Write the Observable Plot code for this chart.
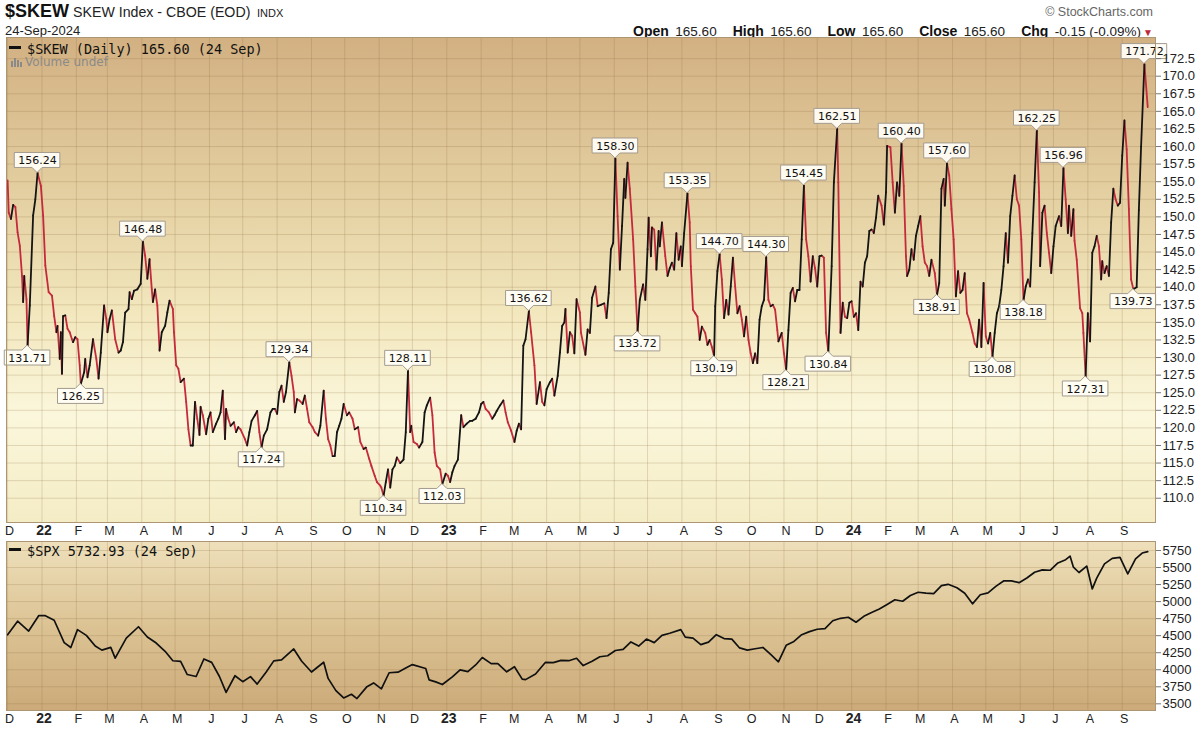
<!DOCTYPE html>
<html><head><meta charset="utf-8">
<script src="https://cdn.jsdelivr.net/npm/d3@7"></script>
<script src="https://cdn.jsdelivr.net/npm/@observablehq/plot@0.6"></script>
<style>
body{margin:0;background:#fff;width:1200px;height:731px;overflow:hidden;position:relative;font-family:"Liberation Sans",Arial,sans-serif;color:#111;}
.abs{position:absolute;white-space:nowrap;line-height:1;}
#upper{position:absolute;left:0;top:37px;}
#lower{position:absolute;left:0;top:541px;}
.leg{font-family:"DejaVu Sans Mono",monospace;font-size:13.5px;color:#111;z-index:5;}
.dash{display:inline-block;width:12px;height:2.5px;background:#111;vertical-align:middle;margin-right:6px;position:relative;top:-2px;}
#hdr-right b{font-size:14px;}
#hdr-right span{font-size:13.5px;margin-left:2px;margin-right:16px;color:#222;}
</style></head><body>

<div class="abs" style="left:5px;top:2px;font-size:18px;font-weight:bold;">$SKEW</div>
<div class="abs" style="left:73px;top:5px;font-size:14.2px;color:#222;">SKEW Index - CBOE (EOD)</div>
<div class="abs" style="left:257px;top:7.5px;font-size:11px;color:#222;">INDX</div>
<div class="abs" style="left:5px;top:24px;font-size:13px;color:#222;">24-Sep-2024</div>
<div class="abs" style="right:47px;top:6px;font-size:12.5px;color:#666;">© StockCharts.com</div>
<div class="abs" id="hdr-right" style="right:47px;top:22.5px;color:#111;"></div>

<div class="abs leg" style="left:9px;top:42.5px;"><span class="dash"></span>$SKEW (Daily) 165.60 (24 Sep)</div>
<div class="abs" style="left:11px;top:56px;font-size:12px;color:#8a8a8a;font-family:'DejaVu Sans',sans-serif;z-index:5;"><svg width="12" height="10" style="vertical-align:-1px;margin-right:2px"><rect x="0" y="4" width="2" height="6" fill="#8a8a8a"/><rect x="3" y="1" width="2" height="9" fill="#8a8a8a"/><rect x="6" y="3" width="2" height="7" fill="#8a8a8a"/><rect x="9" y="5" width="2" height="5" fill="#8a8a8a"/></svg>Volume undef</div>
<div class="abs leg" style="left:9px;top:544.5px;"><span class="dash"></span>$SPX 5732.93 (24 Sep)</div>

<div id="upper"></div>
<div id="lower"></div>

<script>
// ---------- data ----------
const skew2021 = [["2021-12-01",155.2],["2021-12-02",150.6],["2021-12-04",149.7],["2021-12-06",151.7],["2021-12-08",151.4],["2021-12-10",147.8],["2021-12-12",145.9],["2021-12-14",141.6],["2021-12-15",137.9],["2021-12-16",141.6],["2021-12-18",138.3],["2021-12-19",131.71],["2021-12-21",137.4],["2021-12-24",150.2],["2021-12-26",152.5],["2021-12-28",156.24],["2021-12-31",154.4]];
const skew2022 = [["2022-01-02",150.2],["2022-01-04",143.1],["2022-01-07",139.3],["2022-01-10",138.8],["2022-01-12",135.9],["2022-01-14",133.6],["2022-01-15",134.5],["2022-01-17",129.8],["2022-01-18",133.6],["2022-01-19",127.7],["2022-01-20",135.9],["2022-01-22",136.0],["2022-01-24",134.1],["2022-01-26",133.6],["2022-01-28",132.6],["2022-01-29",132.2],["2022-01-31",132.9],["2022-02-02",132.6],["2022-02-04",128.9],["2022-02-05",126.25],["2022-02-08",127.9],["2022-02-09",129.8],["2022-02-11",127.2],["2022-02-13",128.9],["2022-02-16",132.6],["2022-02-19",129.8],["2022-02-21",127.0],["2022-02-23",130.7],["2022-02-26",137.4],["2022-02-28",135.5],["2022-03-01",133.6],["2022-03-03",135.5],["2022-03-05",136.7],["2022-03-08",132.6],["2022-03-11",130.7],["2022-03-13",131.0],["2022-03-15",132.2],["2022-03-17",136.4],["2022-03-20",136.9],["2022-03-21",139.3],["2022-03-23",138.3],["2022-03-25",139.5],["2022-03-28",139.7],["2022-03-31",140.5],["2022-04-02",146.48],["2022-04-04",144.5],["2022-04-06",141.2],["2022-04-08",144.0],["2022-04-10",139.7],["2022-04-11",137.9],["2022-04-13",139.7],["2022-04-15",137.4],["2022-04-17",131.0],["2022-04-19",133.6],["2022-04-22",134.5],["2022-04-24",136.4],["2022-04-26",138.1],["2022-04-29",136.9],["2022-04-30",133.6],["2022-05-02",128.9],["2022-05-04",128.4],["2022-05-06",126.5],["2022-05-09",127.0],["2022-05-11",123.7],["2022-05-13",119.8],["2022-05-15",117.5],["2022-05-17",117.5],["2022-05-19",123.7],["2022-05-21",121.3],["2022-05-23",119.0],["2022-05-24",123.0],["2022-05-26",121.8],["2022-05-29",119.1],["2022-05-31",121.3],["2022-06-02",122.2],["2022-06-04",119.4],["2022-06-07",120.6],["2022-06-09",121.3],["2022-06-11",122.2],["2022-06-13",125.3],["2022-06-15",118.4],["2022-06-16",122.7],["2022-06-18",121.3],["2022-06-20",120.3],["2022-06-23",120.8],["2022-06-25",119.4],["2022-06-27",120.1],["2022-06-29",119.8],["2022-07-03",118.4],["2022-07-05",117.5],["2022-07-07",119.4],["2022-07-09",121.0],["2022-07-12",121.8],["2022-07-14",122.4],["2022-07-16",119.4],["2022-07-18",117.24],["2022-07-20",118.9],["2022-07-23",119.8],["2022-07-26",122.2],["2022-07-28",122.7],["2022-07-30",122.7],["2022-08-01",122.0],["2022-08-03",125.1],["2022-08-05",126.0],["2022-08-07",123.7],["2022-08-09",125.1],["2022-08-12",129.34],["2022-08-14",127.4],["2022-08-16",125.1],["2022-08-17",122.2],["2022-08-19",124.1],["2022-08-21",123.9],["2022-08-24",123.4],["2022-08-26",124.6],["2022-08-28",122.7],["2022-08-30",120.8],["2022-09-02",120.1],["2022-09-04",119.4],["2022-09-07",118.9],["2022-09-09",120.3],["2022-09-12",125.3],["2022-09-14",121.3],["2022-09-16",118.4],["2022-09-18",117.5],["2022-09-20",116.0],["2022-09-22",116.0],["2022-09-24",119.4],["2022-09-26",120.3],["2022-09-28",121.3],["2022-09-30",123.4],["2022-10-03",121.8],["2022-10-05",122.2],["2022-10-08",121.3],["2022-10-10",119.8],["2022-10-13",120.1],["2022-10-15",118.0],["2022-10-18",117.0],["2022-10-20",117.2],["2022-10-23",115.6],["2022-10-25",114.6],["2022-10-28",113.2],["2022-10-30",112.3],["2022-11-02",111.8],["2022-11-03",111.5],["2022-11-05",110.34],["2022-11-07",112.3],["2022-11-09",114.1],["2022-11-11",111.5],["2022-11-13",114.1],["2022-11-15",114.6],["2022-11-17",115.8],["2022-11-20",115.0],["2022-11-23",115.5],["2022-11-25",119.4],["2022-11-27",128.11],["2022-11-29",119.4],["2022-11-30",120.3],["2022-12-02",118.0],["2022-12-05",117.7],["2022-12-07",117.2],["2022-12-10",118.0],["2022-12-12",122.2],["2022-12-14",123.2],["2022-12-17",124.3],["2022-12-19",121.8],["2022-12-21",116.5],["2022-12-23",114.6],["2022-12-26",114.1],["2022-12-28",112.03],["2022-12-31",113.5]];
const skew2023 = [["2023-01-02",113.2],["2023-01-04",112.3],["2023-01-06",113.7],["2023-01-08",114.6],["2023-01-11",115.5],["2023-01-14",121.8],["2023-01-16",120.1],["2023-01-19",120.6],["2023-01-22",121.0],["2023-01-24",121.0],["2023-01-27",121.3],["2023-01-30",122.2],["2023-02-01",123.4],["2023-02-03",123.7],["2023-02-05",122.7],["2023-02-08",122.2],["2023-02-11",121.3],["2023-02-13",121.8],["2023-02-15",122.4],["2023-02-18",123.2],["2023-02-21",123.9],["2023-02-23",122.2],["2023-02-25",120.8],["2023-02-28",119.6],["2023-03-03",118.0],["2023-03-05",119.6],["2023-03-07",120.6],["2023-03-09",119.8],["2023-03-11",131.7],["2023-03-13",132.6],["2023-03-16",136.62],["2023-03-18",133.6],["2023-03-21",128.9],["2023-03-23",123.4],["2023-03-26",126.5],["2023-03-28",123.7],["2023-03-30",123.2],["2023-04-01",125.5],["2023-04-04",126.5],["2023-04-06",127.0],["2023-04-08",124.6],["2023-04-11",127.4],["2023-04-13",130.7],["2023-04-15",134.5],["2023-04-17",135.0],["2023-04-18",136.9],["2023-04-20",130.7],["2023-04-22",133.6],["2023-04-24",133.1],["2023-04-26",130.6],["2023-04-28",138.3],["2023-05-01",136.4],["2023-05-02",133.5],["2023-05-06",130.4],["2023-05-08",134.0],["2023-05-10",133.5],["2023-05-12",138.5],["2023-05-15",140.1],["2023-05-17",137.3],["2023-05-20",137.5],["2023-05-23",137.7],["2023-05-25",135.6],["2023-05-27",139.2],["2023-05-29",145.4],["2023-05-31",146.3],["2023-06-02",158.30],["2023-06-04",150.1],["2023-06-06",142.5],["2023-06-08",148.7],["2023-06-10",155.4],["2023-06-11",152.7],["2023-06-13",157.7],["2023-06-15",154.0],["2023-06-18",146.8],["2023-06-20",140.1],["2023-06-22",133.72],["2023-06-24",138.2],["2023-06-27",140.4],["2023-06-29",138.2],["2023-07-01",145.4],["2023-07-02",149.9],["2023-07-04",144.4],["2023-07-05",148.5],["2023-07-07",148.2],["2023-07-09",142.5],["2023-07-11",148.0],["2023-07-12",145.8],["2023-07-14",149.2],["2023-07-17",144.4],["2023-07-19",141.6],["2023-07-21",142.7],["2023-07-23",143.5],["2023-07-25",142.5],["2023-07-27",147.7],["2023-07-29",143.9],["2023-07-31",145.8],["2023-08-01",143.0],["2023-08-03",147.7],["2023-08-06",153.35],["2023-08-08",149.2],["2023-08-09",143.0],["2023-08-11",136.8],["2023-08-13",136.3],["2023-08-15",135.8],["2023-08-17",132.5],["2023-08-19",134.4],["2023-08-22",133.5],["2023-08-24",131.8],["2023-08-26",132.5],["2023-08-28",131.5],["2023-08-30",130.19],["2023-08-31",137.3],["2023-09-02",142.3],["2023-09-04",144.70],["2023-09-06",141.1],["2023-09-08",135.6],["2023-09-10",138.2],["2023-09-12",136.1],["2023-09-14",140.1],["2023-09-16",144.2],["2023-09-18",140.1],["2023-09-20",136.3],["2023-09-22",137.3],["2023-09-24",135.4],["2023-09-26",133.0],["2023-09-28",135.8],["2023-09-30",132.5],["2023-10-02",130.6],["2023-10-04",129.2],["2023-10-06",130.6],["2023-10-08",129.2],["2023-10-10",135.4],["2023-10-12",137.3],["2023-10-14",138.2],["2023-10-16",144.30],["2023-10-18",138.2],["2023-10-20",137.3],["2023-10-22",137.5],["2023-10-24",136.8],["2023-10-26",133.9],["2023-10-27",132.3],["2023-10-30",133.5],["2023-11-01",130.6],["2023-11-03",128.21],["2023-11-05",133.9],["2023-11-07",139.2],["2023-11-09",139.9],["2023-11-11",138.0],["2023-11-13",139.6],["2023-11-15",139.6],["2023-11-17",146.8],["2023-11-19",154.45],["2023-11-21",146.8],["2023-11-23",144.4],["2023-11-25",140.8],["2023-11-27",144.4],["2023-11-29",142.7],["2023-12-01",140.1],["2023-12-03",144.4],["2023-12-05",144.5],["2023-12-07",144.2],["2023-12-09",133.5],["2023-12-11",130.84],["2023-12-14",143.0],["2023-12-16",154.9],["2023-12-19",162.51],["2023-12-20",154.9],["2023-12-22",133.5],["2023-12-24",137.8],["2023-12-26",135.8],["2023-12-28",135.6],["2023-12-30",137.8]];
const skew2024 = [["2024-01-01",138.0],["2024-01-03",135.8],["2024-01-05",136.3],["2024-01-07",133.9],["2024-01-09",140.8],["2024-01-11",140.1],["2024-01-13",143.5],["2024-01-15",144.4],["2024-01-17",148.0],["2024-01-19",148.2],["2024-01-21",147.7],["2024-01-23",149.9],["2024-01-25",153.0],["2024-01-28",151.6],["2024-01-30",148.9],["2024-02-01",153.5],["2024-02-02",160.1],["2024-02-05",159.9],["2024-02-07",154.9],["2024-02-09",150.6],["2024-02-11",154.9],["2024-02-13",153.0],["2024-02-15",160.40],["2024-02-17",154.4],["2024-02-19",144.4],["2024-02-20",141.6],["2024-02-22",142.5],["2024-02-24",145.4],["2024-02-26",143.9],["2024-02-28",147.3],["2024-03-01",148.7],["2024-03-03",150.1],["2024-03-05",145.8],["2024-03-07",143.5],["2024-03-09",143.0],["2024-03-11",141.6],["2024-03-13",143.9],["2024-03-16",142.0],["2024-03-18",138.91],["2024-03-20",140.6],["2024-03-22",154.0],["2024-03-24",155.4],["2024-03-25",151.6],["2024-03-27",157.60],["2024-03-29",155.9],["2024-03-31",151.1],["2024-04-02",146.8],["2024-04-04",138.7],["2024-04-06",142.3],["2024-04-08",139.2],["2024-04-10",139.6],["2024-04-12",142.0],["2024-04-14",136.3],["2024-04-16",135.4],["2024-04-19",133.5],["2024-04-21",132.0],["2024-04-23",131.5],["2024-04-25",135.4],["2024-04-27",131.5],["2024-04-29",140.6],["2024-05-01",133.0],["2024-05-03",132.0],["2024-05-05",133.5],["2024-05-07",130.08],["2024-05-09",133.5],["2024-05-11",136.3],["2024-05-13",137.3],["2024-05-15",139.6],["2024-05-17",143.0],["2024-05-19",147.7],["2024-05-21",143.5],["2024-05-23",150.1],["2024-05-25",153.0],["2024-05-27",155.9],["2024-05-29",152.5],["2024-05-31",151.6],["2024-06-02",146.8],["2024-06-04",138.18],["2024-06-06",140.1],["2024-06-08",141.1],["2024-06-10",140.1],["2024-06-12",147.7],["2024-06-14",154.9],["2024-06-16",162.25],["2024-06-18",153.5],["2024-06-19",143.0],["2024-06-21",150.6],["2024-06-23",151.6],["2024-06-25",147.7],["2024-06-27",144.9],["2024-06-29",142.0],["2024-07-01",145.8],["2024-07-03",148.7],["2024-07-06",150.1],["2024-07-08",148.7],["2024-07-10",156.96],["2024-07-12",152.5],["2024-07-14",147.7],["2024-07-15",151.6],["2024-07-17",147.3],["2024-07-19",151.1],["2024-07-20",146.6],["2024-07-22",143.9],["2024-07-25",137.0],["2024-07-27",136.3],["2024-07-28",133.5],["2024-07-30",127.31],["2024-08-01",136.3],["2024-08-03",132.3],["2024-08-05",144.9],["2024-08-07",145.8],["2024-08-09",147.3],["2024-08-11",145.8],["2024-08-13",141.1],["2024-08-14",143.7],["2024-08-16",142.0],["2024-08-18",143.0],["2024-08-20",141.6],["2024-08-22",149.2],["2024-08-24",154.0],["2024-08-26",152.5],["2024-08-28",151.6],["2024-08-30",152.0],["2024-09-01",158.7],["2024-09-03",163.7],["2024-09-05",159.6],["2024-09-07",151.1],["2024-09-09",141.1],["2024-09-11",139.73],["2024-09-14",140.0],["2024-09-16",151.0],["2024-09-18",160.0],["2024-09-21",171.72],["2024-09-24",165.60]];

const peakDates = ["2021-12-28","2022-04-02","2022-08-12","2022-11-27","2023-03-16","2023-06-02","2023-08-06","2023-09-04","2023-10-16","2023-11-19","2023-12-19","2024-02-15","2024-03-27","2024-06-16","2024-07-10","2024-09-21"];
const troughDates = ["2021-12-19","2022-02-05","2022-07-18","2022-11-05","2022-12-28","2023-06-22","2023-08-30","2023-11-03","2023-12-11","2024-03-18","2024-05-07","2024-06-04","2024-07-30","2024-09-11"];

const spxSeries = [["2021-12-01",4513],["2021-12-10",4712],["2021-12-20",4568],["2021-12-29",4793],["2022-01-04",4793],["2022-01-12",4726],["2022-01-21",4398],["2022-01-27",4326],["2022-02-02",4589],["2022-02-10",4504],["2022-02-18",4348],["2022-02-24",4288],["2022-03-04",4328],["2022-03-08",4170],["2022-03-18",4463],["2022-03-29",4631],["2022-04-06",4481],["2022-04-14",4392],["2022-04-22",4271],["2022-04-29",4132],["2022-05-06",4123],["2022-05-12",3930],["2022-05-20",3901],["2022-05-27",4158],["2022-06-03",4108],["2022-06-10",3901],["2022-06-16",3667],["2022-06-24",3912],["2022-07-01",3825],["2022-07-08",3899],["2022-07-14",3790],["2022-07-22",3962],["2022-07-29",4130],["2022-08-05",4145],["2022-08-16",4305],["2022-08-23",4128],["2022-09-01",3967],["2022-09-12",4110],["2022-09-16",3873],["2022-09-23",3693],["2022-09-30",3586],["2022-10-07",3640],["2022-10-12",3577],["2022-10-21",3752],["2022-10-27",3807],["2022-11-03",3720],["2022-11-10",3956],["2022-11-18",3965],["2022-11-25",4026],["2022-12-01",4076],["2022-12-13",4019],["2022-12-16",3852],["2022-12-22",3822],["2022-12-28",3783],["2023-01-06",3895],["2023-01-13",3999],["2023-01-20",3972],["2023-01-27",4070],["2023-02-02",4179],["2023-02-10",4090],["2023-02-16",4090],["2023-02-24",3970],["2023-03-03",4045],["2023-03-10",3862],["2023-03-13",3855],["2023-03-22",3937],["2023-03-31",4109],["2023-04-07",4105],["2023-04-14",4137],["2023-04-21",4133],["2023-04-28",4169],["2023-05-04",4061],["2023-05-12",4124],["2023-05-19",4191],["2023-05-26",4205],["2023-06-02",4282],["2023-06-09",4298],["2023-06-16",4409],["2023-06-23",4348],["2023-06-30",4450],["2023-07-07",4398],["2023-07-14",4505],["2023-07-21",4536],["2023-07-31",4588],["2023-08-04",4478],["2023-08-11",4464],["2023-08-18",4369],["2023-08-25",4405],["2023-09-01",4515],["2023-09-08",4457],["2023-09-15",4450],["2023-09-22",4320],["2023-09-29",4288],["2023-10-06",4308],["2023-10-13",4327],["2023-10-20",4224],["2023-10-27",4117],["2023-11-03",4358],["2023-11-10",4415],["2023-11-17",4514],["2023-11-24",4559],["2023-12-01",4594],["2023-12-08",4604],["2023-12-15",4719],["2023-12-22",4755],["2023-12-29",4770],["2024-01-05",4697],["2024-01-12",4784],["2024-01-19",4840],["2024-01-26",4891],["2024-02-02",4959],["2024-02-09",5027],["2024-02-16",5005],["2024-02-23",5089],["2024-03-01",5137],["2024-03-08",5124],["2024-03-15",5117],["2024-03-22",5234],["2024-03-28",5254],["2024-04-05",5204],["2024-04-12",5123],["2024-04-19",4967],["2024-04-26",5100],["2024-05-03",5128],["2024-05-10",5223],["2024-05-17",5303],["2024-05-24",5305],["2024-05-31",5278],["2024-06-07",5347],["2024-06-14",5431],["2024-06-21",5465],["2024-06-28",5460],["2024-07-05",5567],["2024-07-12",5615],["2024-07-16",5667],["2024-07-19",5505],["2024-07-24",5427],["2024-07-31",5522],["2024-08-05",5186],["2024-08-09",5344],["2024-08-16",5554],["2024-08-23",5634],["2024-08-30",5648],["2024-09-06",5408],["2024-09-13",5626],["2024-09-19",5713],["2024-09-24",5732.93]];

const skewTicks = [110,112.5,115,117.5,120,122.5,125,127.5,130,132.5,135,137.5,140,142.5,145,147.5,150,152.5,155,157.5,160,162.5,165,167.5,170,172.5];
const spxTicks = [3500,3750,4000,4250,4500,4750,5000,5250,5500,5750];
const monthLetters = ["J","F","M","A","M","J","J","A","S","O","N","D"];
const quote = [["Open","165.60"],["High","165.60"],["Low","165.60"],["Close","165.60"],["Chg","-0.15 (-0.09%)"]];

// ---------- header quote line ----------
const hr = document.getElementById("hdr-right");
hr.innerHTML = quote.map(([k, v], i) => `<b>${k}</b> <span${i === quote.length - 1 ? ' style="margin-right:2px"' : ''}>${v}</span>`).join("")
  + `<em style="font-style:normal;color:#c0283a;font-size:10px;">▼</em>`;

// ---------- build ----------
const parse = d3.utcParse("%Y-%m-%d");
const skew = [...skew2021, ...skew2022, ...skew2023, ...skew2024].map(([d, v]) => ({date: parse(d), value: v}));
const byDate = new Map(skew.map(d => [+d.date, d]));
const peaks = peakDates.map(s => byDate.get(+parse(s))).filter(Boolean);
const troughs = troughDates.map(s => byDate.get(+parse(s))).filter(Boolean);
const segs = d3.pairs(skew).map(([a, b]) => ({x1: a.date, y1: a.value, x2: b.date, y2: b.value, up: b.value >= a.value}));
const spx = spxSeries.map(([d, v]) => ({date: parse(d), value: v}));

const xDomain = [parse("2021-11-30"), parse("2024-10-01")];
const months = d3.utcMonth.range(parse("2021-12-01"), parse("2024-09-02"));
const monthNonJan = months.filter(d => d.getUTCMonth() !== 0);
const monthJan = months.filter(d => d.getUTCMonth() === 0);

function gradientDefs(id, stops) {
  return () => {
    const defs = d3.create("svg:defs");
    const g = defs.append("linearGradient").attr("id", id).attr("x1", 0).attr("y1", 0).attr("x2", 0).attr("y2", 1);
    stops.forEach(([o, c]) => g.append("stop").attr("offset", o).attr("stop-color", c));
    return defs.node();
  };
}

// callout boxes with a small pointer, positioned through the plot's own x/y scales
const BOX_H = 15, PTR = 5;
function calloutBoxes(data, dir) {
  return (index, scales) => {
    const g = d3.create("svg:g");
    for (const d of data) {
      const px = scales.x(d.date), py = scales.y(d.value);
      const w = d.value.toFixed(2).length * 6.6 + 6;
      const s = dir === "up" ? -1 : 1; // up: box above point
      const yb = py + s * PTR;            // box edge next to pointer
      const yf = yb + s * BOX_H;          // far edge
      const path = `M${px},${py}L${px - PTR},${yb}L${px - w / 2},${yb}L${px - w / 2},${yf}L${px + w / 2},${yf}L${px + w / 2},${yb}L${px + PTR},${yb}Z`;
      g.append("path").attr("d", path).attr("fill", "#fffdf6").attr("fill-opacity", 0.95).attr("stroke", "#a39b8e").attr("stroke-width", 1);
    }
    return g.node();
  };
}
function calloutTexts(data, dir) {
  return Plot.text(data, {x: "date", y: "value", text: d => d.value.toFixed(2), dy: (dir === "up" ? -1 : 1) * (PTR + BOX_H / 2),
    fontSize: 11, fontFamily: "DejaVu Sans, sans-serif", fill: "#111", textAnchor: "middle", lineAnchor: "middle"});
}

const gridStroke = {stroke: "#8a6a3a", strokeOpacity: 0.22, strokeWidth: 1};
const axisFont = {fontSize: 12.5, fill: "#222"};

function xAxes() {
  return [
    Plot.axisX(monthNonJan, {anchor: "bottom", tickSize: 0, tickPadding: 4, dx: 2, tickFormat: d => monthLetters[d.getUTCMonth()], ...axisFont, label: null}),
    Plot.axisX(monthJan, {anchor: "bottom", tickSize: 0, tickPadding: 3, dx: 2, tickFormat: d => d3.utcFormat("%y")(d), fontSize: 14, fontWeight: "bold", fill: "#222", label: null})
  ];
}

const common = {
  width: 1200, marginLeft: 6, marginRight: 45, marginTop: 0,
  style: {fontFamily: "'Liberation Sans', Arial, sans-serif", fontSize: "12.5px", color: "#222", background: "transparent", overflow: "visible"}
};

const upper = Plot.plot({
  ...common,
  height: 504, marginBottom: 19,
  x: {type: "utc", domain: xDomain, label: null},
  y: {domain: [106.55, 175.5], label: null},
  marks: [
    gradientDefs("gUp", [[0, "#d2b082"], [0.33, "#e4d0a2"], [0.58, "#f3e8bf"], [0.78, "#fbf7dc"], [1, "#f4ecc5"]]),
    Plot.frame({fill: "url(#gUp)"}),
    Plot.gridX(months, gridStroke),
    Plot.gridY(skewTicks, gridStroke),
    Plot.link(segs.filter(d => !d.up), {x1: "x1", y1: "y1", x2: "x2", y2: "y2", stroke: "#c42a3c", strokeWidth: 1.8, strokeLinecap: "round"}),
    Plot.link(segs.filter(d => d.up), {x1: "x1", y1: "y1", x2: "x2", y2: "y2", stroke: "#141414", strokeWidth: 1.8, strokeLinecap: "round"}),
    calloutBoxes(peaks, "up"),
    calloutBoxes(troughs, "down"),
    calloutTexts(peaks, "up"),
    calloutTexts(troughs, "down"),
    Plot.frame({stroke: "#ad9672", strokeWidth: 1}),
    Plot.axisY(skewTicks, {anchor: "right", tickSize: 5, tickPadding: 2, tickFormat: d => d.toFixed(1), fontSize: 13, fill: "#222", stroke: "#777", label: null}),
    ...xAxes()
  ]
});
document.getElementById("upper").append(upper);

const lower = Plot.plot({
  ...common,
  height: 190, marginBottom: 21,
  x: {type: "utc", domain: xDomain, label: null},
  y: {domain: [3402, 5882], label: null},
  marks: [
    gradientDefs("gLo", [[0, "#eee0bb"], [0.5, "#dcc394"], [1, "#ccaa79"]]),
    Plot.frame({fill: "url(#gLo)"}),
    Plot.gridX(months, gridStroke),
    Plot.gridY(spxTicks, gridStroke),
    Plot.line(spx, {x: "date", y: "value", stroke: "#111", strokeWidth: 1.7, strokeLinejoin: "round"}),
    Plot.frame({stroke: "#ad9672", strokeWidth: 1}),
    Plot.axisY(spxTicks, {anchor: "right", tickSize: 5, tickPadding: 2, tickFormat: d => String(d), fontSize: 13, fill: "#222", stroke: "#777", label: null}),
    ...xAxes()
  ]
});
document.getElementById("lower").append(lower);
</script>
</body></html>
